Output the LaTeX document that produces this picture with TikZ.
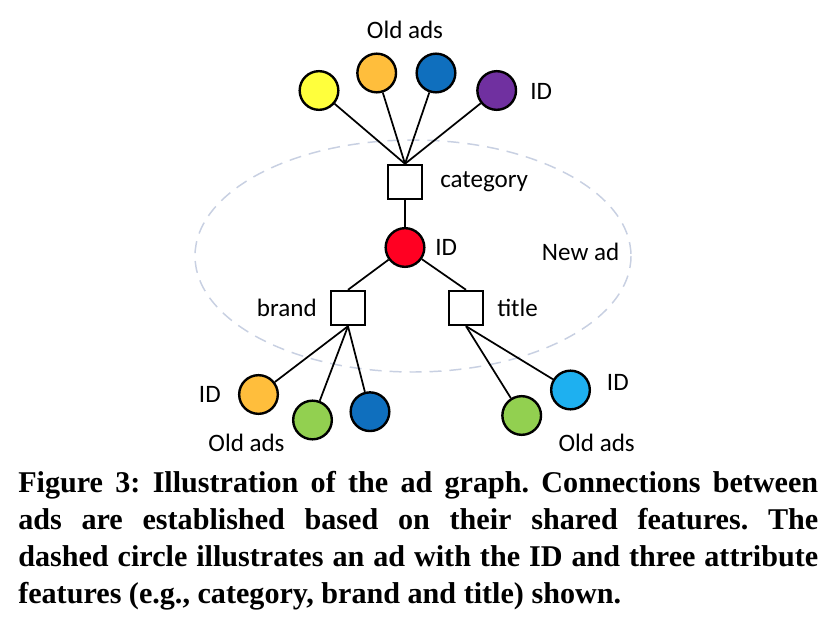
\documentclass[tikz,border=0pt]{standalone}
\usepackage{fontspec}
\setmainfont{Liberation Serif}
\newfontfamily\diagfont{Carlito}
\usepackage{tikz}
\definecolor{adyellow}{HTML}{FFFF3C}
\definecolor{adorange}{HTML}{FFBE3C}
\definecolor{adblue}{HTML}{0F6FBE}
\definecolor{adpurple}{HTML}{7030A0}
\definecolor{adred}{HTML}{FF0022}
\definecolor{adgreen}{HTML}{92D050}
\definecolor{adsky}{HTML}{1EB0F0}
\definecolor{hullgray}{HTML}{C8D0E2}
\frenchspacing

\begin{document}
\begin{tikzpicture}[x=0.75pt,y=-0.75pt,
  ad/.style={circle,draw,line width=1.8pt,minimum size=29pt,inner sep=0pt},
  feat/.style={rectangle,draw,fill=white,line width=1.8pt,minimum size=25.5pt,inner sep=0pt},
  lbl/.style={font=\diagfont\fontsize{18.8}{22}\selectfont,inner sep=0pt},
  edge/.style={line width=1.3pt},
  capline/.style={font=\bfseries\fontsize{22.6}{27}\selectfont,inner sep=0pt,anchor=base west}]
\path[fill=white,use as bounding box] (0,0) rectangle (840,628);
\draw[hullgray,line width=1.1pt,dash pattern=on 9pt off 6pt] (413,256) ellipse [x radius=218,y radius=116];
% feature nodes of the new ad
\node[feat] (cat) at (405,182) {};
\node[ad,fill=adred] (new) at (405,247.5) {};
\node[feat] (brand) at (348,308) {};
\node[feat] (title) at (466,308) {};
% old ads
\node[ad,fill=adyellow] (o1) at (319,90.5) {};
\node[ad,fill=adorange] (o2) at (376.7,73) {};
\node[ad,fill=adblue] (o3) at (436,73) {};
\node[ad,fill=adpurple] (o4) at (496.7,90.5) {};
\node[ad,fill=adorange] (b1) at (258.5,394.5) {};
\node[ad,fill=adgreen] (b2) at (312.5,420) {};
\node[ad,fill=adblue] (b3) at (370,411.7) {};
\node[ad,fill=adgreen] (t1) at (521.7,415.5) {};
\node[ad,fill=adsky] (t2) at (570.5,390) {};
\foreach \o in {o1,o2,o3,o4} \draw[edge] (cat.north) -- (\o);
\draw[edge] (cat) -- (new);
\draw[edge] (new) -- (brand.north); \draw[edge] (new) -- (title.north);
\foreach \b in {b1,b2,b3} \draw[edge] (brand.south) -- (\b);
\foreach \t in {t1,t2} \draw[edge] (title.south) -- (\t);
% labels
\node[lbl,anchor=base] (oldtop) at (405,38) {Old ads};
\node[lbl,anchor=base west] (idtop) at (530,99.5) {ID};
\node[lbl,anchor=base west] (catlbl) at (440,187.7) {category};
\node[lbl,anchor=base west] (idnew) at (435,255) {ID};
\node[lbl,anchor=base west] (newlbl) at (541.7,260.7) {New ad};
\node[lbl,anchor=base east] (brandlbl) at (317,316) {brand};
\node[lbl,anchor=base west] (titlelbl) at (497,316) {title};
\node[lbl,anchor=base east] (idleft) at (221,402.7) {ID};
\node[lbl,anchor=base] (oldleft) at (246.5,451.7) {Old ads};
\node[lbl,anchor=base west] (idright) at (606.7,390) {ID};
\node[lbl,anchor=base] (oldright) at (596.7,451.7) {Old ads};
% caption
\node[capline] (cap1) at (18,492) {\makebox[600pt][s]{Figure 3: Illustration of the ad graph. Connections between}};
\node[capline] (cap2) at (18,529) {\makebox[600pt][s]{ads are established based on their shared features. The}};
\node[capline] (cap3) at (18,566) {\makebox[600pt][s]{dashed circle illustrates an ad with the ID and three attribute}};
\node[capline] (cap4) at (18,603) {features (e.g., category, brand and title) shown.};
\end{tikzpicture}
\end{document}
